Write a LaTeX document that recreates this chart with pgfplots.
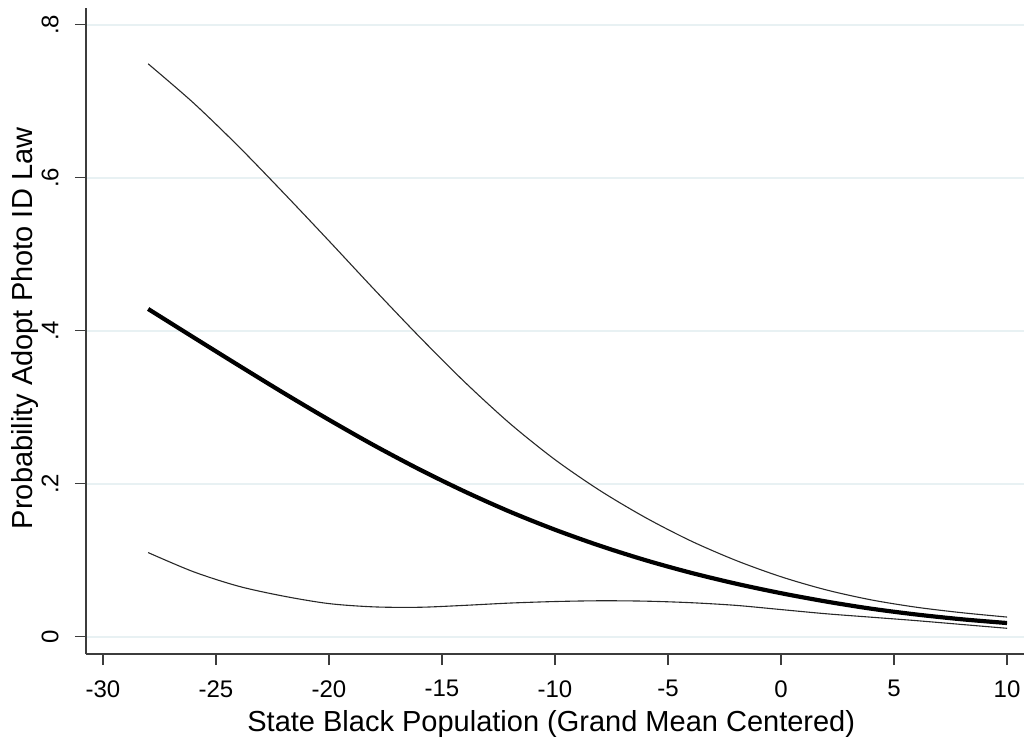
\documentclass[border=0pt]{standalone}
\usepackage{fontspec}
\setmainfont{Liberation Sans}
\usepackage{pgfplots}
\pgfplotsset{compat=1.18}
\definecolor{gridc}{RGB}{232,241,243}
\definecolor{axc}{RGB}{60,60,60}
\definecolor{cic}{RGB}{40,40,40}
\begin{document}
\begin{tikzpicture}
\begin{axis}[
  at={(0pt,0pt)}, anchor=south west,
  scale only axis, width=469pt, height=323pt,
  xmin=-30.75, xmax=10.75, ymin=-0.0226, ymax=0.822,
  axis x line*=bottom, axis y line*=left,
  axis line style={axc, line width=0.6pt, -},
  xtick={-30,-25,-20,-15,-10,-5,0,5,10},
  xticklabels={-30,-25,-20,-15,-10,-5,0,5,10},
  ytick={0,0.2,0.4,0.6,0.8},
  yticklabels={0,.2,.4,.6,.8},
  tick align=outside, major tick length=5.5pt,
  tick style={axc, line width=0.6pt},
  ymajorgrids, grid style={gridc, line width=1.1pt},
  ticklabel style={font=\fontsize{12}{14}\selectfont, inner sep=0pt},
  xticklabel style={anchor=north},
  xticklabel shift=7.5pt,
  yticklabel style={rotate=90, anchor=base},
  yticklabel shift=8.25pt,
  label style={font=\fontsize{14.5}{17}\selectfont, inner sep=0pt},
  xlabel={State Black Population (Grand Mean Centered)},
  xlabel style={at={(rel axis cs:0.496,-0.1192)}, anchor=base},
  ylabel={Probability Adopt Photo ID Law},
  ylabel style={at={(rel axis cs:-0.0575,0.504)}, anchor=base},
  clip=false,
]
% upper CI
\addplot[cic, line width=0.55pt, smooth] coordinates {
(-28,0.749) (-26,0.698) (-24,0.641) (-22,0.580) (-20,0.5175) (-18,0.4541)
(-16,0.3922) (-14,0.3331) (-12,0.2789) (-10,0.2315) (-8,0.1909) (-6,0.1558)
(-4,0.1254) (-2,0.0998) (0,0.0784) (2,0.0612) (4,0.0481) (6,0.0385) (8,0.0314) (10,0.0257)
};
% lower CI
\addplot[cic, line width=0.55pt, smooth] coordinates {
(-28,0.110) (-26,0.085) (-24,0.066) (-22,0.053) (-20,0.0433) (-18,0.0390)
(-16,0.0385) (-14,0.0410) (-12,0.0440) (-10,0.0460) (-8,0.0470) (-6,0.0465)
(-4,0.0445) (-2,0.0410) (0,0.0355) (2,0.0300) (4,0.0255) (6,0.0210) (8,0.0160) (10,0.0110)
};
% estimate
\addplot[black, line width=2.1pt, smooth] coordinates {
(-28,0.4285) (-26,0.3915) (-24,0.3548) (-22,0.3186) (-20,0.2836) (-18,0.2501)
(-16,0.2188) (-14,0.1899) (-12,0.1635) (-10,0.1399) (-8,0.1188) (-6,0.1001)
(-4,0.0837) (-2,0.0694) (0,0.0569) (2,0.0460) (4,0.0366) (6,0.0290) (8,0.0228) (10,0.0179)
};
\end{axis}
\pgfresetboundingbox
\path (-43pt,-46pt) rectangle (469pt,327pt);
\end{tikzpicture}
\end{document}
